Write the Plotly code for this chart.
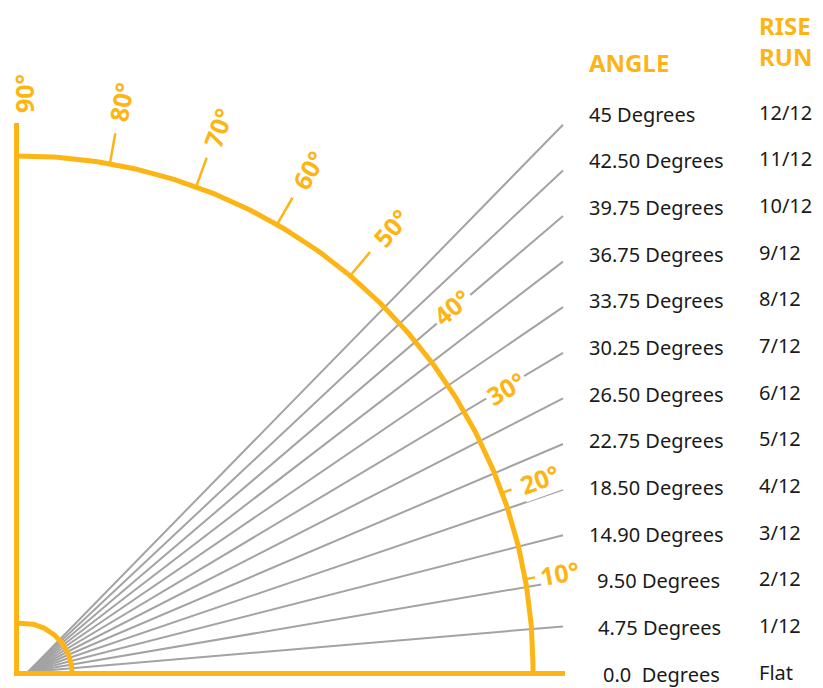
"""Roof pitch chart: rise/run rays drawn over a protractor."""
import numpy as np
import plotly.graph_objects as go

# Table rows, top to bottom
angle_text = [
    "45 Degrees", "42.50 Degrees", "39.75 Degrees", "36.75 Degrees",
    "33.75 Degrees", "30.25 Degrees", "26.50 Degrees", "22.75 Degrees",
    "18.50 Degrees", "14.90 Degrees", "9.50 Degrees", "4.75 Degrees",
    "0.0&nbsp; Degrees",
]
rise_run_text = [
    "12/12", "11/12", "10/12", "9/12", "8/12", "7/12", "6/12",
    "5/12", "4/12", "3/12", "2/12", "1/12", "Flat",
]
rise = [12, 11, 10, 9, 8, 7, 6, 5, 4, 3, 2, 1, 0]
run = 12

# Protractor tick angles in degrees
protractor_ticks = [10, 20, 30, 40, 50, 60, 70, 80, 90]

# Styling / layout (coordinates are page pixels; the page body has an 8px margin)
ORANGE = "#FDB515"
GRAY = "#A3A3A3"
FONT = "Noto Sans"
PAGE_W, PAGE_H, BODY_MARGIN = 823, 688, 8
W, H = PAGE_W - BODY_MARGIN, PAGE_H - BODY_MARGIN
RAY_ORIGIN = (28, 672)          # pixel position of the ray origin
RUN_PX = 535 / 12                # pixels per run unit
RISE_PX = 45.6                   # pixels per rise unit
ARC_C, ARC_R = (21, 668), 512    # big protractor arc
SMALL_C, SMALL_R = (22, 673), 50  # small angle arc
ROW_TOP, ROW_STEP = 114, 46.67
COL2_X = 757                     # rise/run column (kept inside the visible page)
# tick length and label distance for each protractor angle
TICK_LEN = {10: 9, 20: 9, 30: 0, 40: 0, 50: 30, 60: 30, 70: 30, 80: 30, 90: 0}
LABEL_R = {10: 547, 20: 552, 30: 560, 40: 562, 50: 575, 60: 575, 70: 575, 80: 575, 90: 574}
LABEL_DX = {90: 3}               # keep the 90° label clear of the left edge
ROW_INDENT = {"9.50 Degrees": 8, "4.75 Degrees": 9, "0.0&nbsp; Degrees": 14}

fig = go.Figure()

# Rays in rise/run units on the base axes (drawn beneath the protractor)
ray_x, ray_y = [], []
for r in rise:
    ray_x += [0, run, None]
    ray_y += [0, r, None]
fig.add_trace(go.Scatter(
    x=ray_x, y=ray_y, mode="lines",
    line=dict(color=GRAY, width=2), hoverinfo="skip",
))


def orange_line(xs, ys, width=5):
    fig.add_trace(go.Scatter(
        x=xs, y=ys, xaxis="x2", yaxis="y2", mode="lines",
        line=dict(color=ORANGE, width=width), hoverinfo="skip",
    ))


# Vertical and horizontal axes of the protractor
orange_line([16.5, 16.5], [123, 676])
orange_line([14, 565], [673.5, 673.5])

# Big arc, joined to the vertical line and the baseline
theta = np.radians(np.linspace(90, 0, 200))
arc_x = [16] + list(ARC_C[0] + ARC_R * np.cos(theta)) + [ARC_C[0] + ARC_R]
arc_y = [ARC_C[1] - ARC_R] + list(ARC_C[1] - ARC_R * np.sin(theta)) + [673]
orange_line(arc_x, arc_y)

# Small arc near the origin
theta_s = np.radians(np.linspace(90, 0, 80))
orange_line(
    [16] + list(SMALL_C[0] + SMALL_R * np.cos(theta_s)),
    [SMALL_C[1] - SMALL_R] + list(SMALL_C[1] - SMALL_R * np.sin(theta_s)),
)

# Tick marks and degree labels
annotations = []
for a in protractor_ticks:
    t = np.radians(a)
    if TICK_LEN[a]:
        r0, r1 = ARC_R + 1, ARC_R + 1 + TICK_LEN[a]
        orange_line(
            [ARC_C[0] + r0 * np.cos(t), ARC_C[0] + r1 * np.cos(t)],
            [ARC_C[1] - r0 * np.sin(t), ARC_C[1] - r1 * np.sin(t)],
            width=2.5,
        )
    annotations.append(dict(
        x=ARC_C[0] + LABEL_R[a] * np.cos(t) + LABEL_DX.get(a, 0),
        y=ARC_C[1] - LABEL_R[a] * np.sin(t),
        xref="x2", yref="y2", text=f"<b>{a}°</b>", textangle=-a,
        showarrow=False, xanchor="center", yanchor="middle",
        bgcolor="white", borderpad=0 if a <= 20 or a == 90 else 2,
        font=dict(family=FONT, size=25, color=ORANGE),
    ))

# Table headers
for txt, x, y in [("ANGLE", 587, 62), ("RISE", COL2_X, 25), ("RUN", COL2_X, 56)]:
    annotations.append(dict(
        x=x, y=y, xref="x2", yref="y2", text=f"<b>{txt}</b>",
        showarrow=False, xanchor="left", yanchor="middle",
        font=dict(family=FONT, size=24, color=ORANGE),
    ))

# Table rows
for i, (a_txt, rr_txt) in enumerate(zip(angle_text, rise_run_text)):
    y = ROW_TOP + i * ROW_STEP
    annotations.append(dict(
        x=587 + ROW_INDENT.get(a_txt, 0), y=y, xref="x2", yref="y2",
        text=a_txt, showarrow=False, xanchor="left", yanchor="middle",
        font=dict(family=FONT, size=20, color="#1a1a1a"),
    ))
    annotations.append(dict(
        x=COL2_X, y=y - 2, xref="x2", yref="y2",
        text=rr_txt, showarrow=False, xanchor="left", yanchor="middle",
        font=dict(family=FONT, size=20, color="#1a1a1a"),
    ))

fig.update_layout(
    width=W, height=H,
    margin=dict(l=0, r=0, t=0, b=0),
    paper_bgcolor="white", plot_bgcolor="white",
    showlegend=False,
    annotations=annotations,
    xaxis=dict(
        range=[-(RAY_ORIGIN[0] - BODY_MARGIN) / RUN_PX,
               (PAGE_W - RAY_ORIGIN[0]) / RUN_PX],
        visible=False, fixedrange=True,
    ),
    yaxis=dict(
        range=[-(PAGE_H - RAY_ORIGIN[1]) / RISE_PX,
               (RAY_ORIGIN[1] - BODY_MARGIN) / RISE_PX],
        visible=False, fixedrange=True,
    ),
    xaxis2=dict(range=[BODY_MARGIN, PAGE_W], overlaying="x", anchor="y2",
                visible=False, fixedrange=True),
    yaxis2=dict(range=[PAGE_H, BODY_MARGIN], overlaying="y", anchor="x2",
                visible=False, fixedrange=True),
)

fig.write_html("out.html")
